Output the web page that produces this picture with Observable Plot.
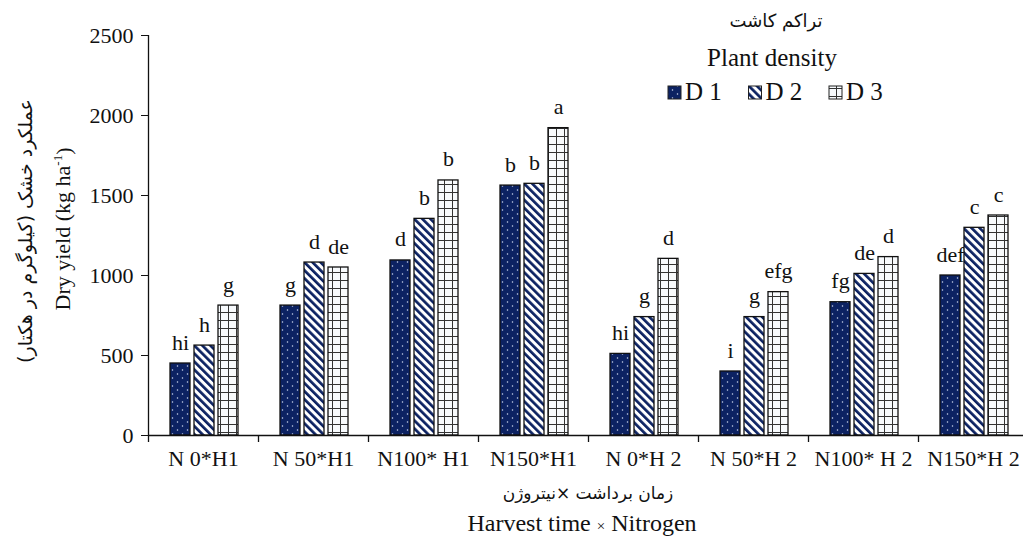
<!DOCTYPE html>
<html><head><meta charset="utf-8">
<script src="https://cdn.jsdelivr.net/npm/d3@7"></script>
<script src="https://cdn.jsdelivr.net/npm/@observablehq/plot@0.6"></script>
<style>
body{margin:0;background:#fff;overflow:hidden}
#chart{width:1023px;height:538px}
</style>
</head><body><div id="chart"></div>
<script>
const groups = ["N 0*H1","N 50*H1","N100* H1","N150*H1","N 0*H 2","N 50*H 2","N100* H 2","N150*H 2"];
const series = ["D 1","D 2","D 3"];
const valuesD1 = [450, 812, 1094, 1562, 510, 400, 833, 1000];
const valuesD2 = [562, 1081, 1354, 1573, 740, 740, 1010, 1298];
const valuesD3 = [812, 1050, 1594, 1921, 1104, 896, 1115, 1375];
const lettersD1 = ["hi","g","d","b","hi","i","fg","def"];
const lettersD2 = ["h","d","b","b","g","g","de","c"];
const lettersD3 = ["g","de","b","a","d","efg","d","c"];
const yTicks = [0, 500, 1000, 1500, 2000, 2500];
const legendTitleFa = "تراکم کاشت";
const legendTitleEn = "Plant density";
const yTitleFa = "عملکرد خشک (کیلوگرم در هکتار)";
const xTitleFa = "زمان برداشت ×نیتروژن";

const NAVY = "#0c2262";
const SERIF = "'Liberation Serif','Times New Roman',serif";
const FA = "'DejaVu Sans',sans-serif";

const allValues = [valuesD1, valuesD2, valuesD3];
const allLetters = [lettersD1, lettersD2, lettersD3];
const data = [];
series.forEach((s, si) => groups.forEach((g, gi) => data.push({group: g, series: s, si, value: allValues[si][gi], letter: allLetters[si][gi]})));

const BAND = 110;
const barStart = [22, 46, 70], barW = 20;
const patIds = ["pD1","pD2","pD3"];

const marks = [];
series.forEach((s, si) => {
  const sub = data.filter(d => d.si === si);
  marks.push(Plot.barY(sub, {x: "group", y: "value", insetLeft: barStart[si], insetRight: BAND - barStart[si] - barW,
    fill: `url(#${patIds[si]})`, stroke: "#111", strokeWidth: 1.3}));
  marks.push(Plot.text(sub, {x: "group", y: "value", text: "letter", dx: barStart[si] + barW/2 - BAND/2, dy: -14,
    lineAnchor: "bottom", fontSize: 22, fill: "#111"}));
});

const svg = Plot.plot({
  width: 1023, height: 538,
  marginLeft: 148, marginRight: 0, marginTop: 35, marginBottom: 103,
  style: {fontFamily: SERIF, background: "#fff", color: "#111"},
  x: {domain: groups, range: [148, 1028], padding: 0},
  y: {domain: [0, 2500]},
  marks: [
    ...marks,
    Plot.ruleY([0], {stroke: "#111", strokeWidth: 1.3}),
    Plot.ruleX([groups[0]], {x: d => d, dx: -BAND/2, y1: 0, y2: 2500, stroke: "#111", strokeWidth: 1.3}),
    Plot.ruleX(groups, {x: d => d, dx: -BAND/2, y1: 0, y2: 0, insetBottom: -7, stroke: "#111", strokeWidth: 1.3}),
    Plot.axisY({ticks: yTicks, tickSize: 7, tickPadding: 8, fontSize: 22, label: null, tickFormat: d => String(d), stroke: "#111"}),
    Plot.axisX({tickSize: 0, tickPadding: 15, fontSize: 22, label: null})
  ]
});

const sel = d3.select(svg);
const defs = sel.insert("defs", ":first-child");
const p1 = defs.append("pattern").attr("id","pD1").attr("patternUnits","userSpaceOnUse").attr("width",10).attr("height",8);
p1.append("rect").attr("width",10).attr("height",8).attr("fill",NAVY);
p1.append("circle").attr("cx",2.5).attr("cy",2).attr("r",0.75).attr("fill","#cfd8ee");
p1.append("circle").attr("cx",7.5).attr("cy",6).attr("r",0.75).attr("fill","#cfd8ee");
const p2 = defs.append("pattern").attr("id","pD2").attr("patternUnits","userSpaceOnUse").attr("width",5.7).attr("height",6).attr("patternTransform","rotate(-45)");
p2.append("rect").attr("width",5.7).attr("height",6).attr("fill","#fff");
p2.append("rect").attr("width",2.7).attr("height",6).attr("fill",NAVY);
const p3 = defs.append("pattern").attr("id","pD3").attr("patternUnits","userSpaceOnUse").attr("width",8).attr("height",8);
p3.append("rect").attr("width",8).attr("height",8).attr("fill","#f7fafd");
p3.append("path").attr("d","M0,0.5H8M4.5,0V8").attr("stroke","#333").attr("stroke-width",1).attr("fill","none");

// axis titles
sel.append("text").attr("transform","translate(25,231) rotate(-90)").attr("text-anchor","middle").attr("dy","0.35em")
  .attr("font-family",FA).attr("font-size",19).attr("fill","#111").attr("direction","rtl").text(yTitleFa);
const yEn = sel.append("text").attr("transform","translate(62,229) rotate(-90)").attr("text-anchor","middle").attr("dy","0.35em")
  .attr("font-family",SERIF).attr("font-size",22).attr("fill","#111");
yEn.append("tspan").text("Dry yield (kg ha");
yEn.append("tspan").attr("font-size",13).attr("dy","-0.6em").text("-1");
yEn.append("tspan").attr("dy","0.4em").text(")");

sel.append("text").attr("x",588).attr("y",493).attr("text-anchor","middle").attr("dy","0.35em")
  .attr("font-family",FA).attr("font-size",17).attr("fill","#111").attr("direction","rtl").text(xTitleFa);
const xEn = sel.append("text").attr("x",582).attr("y",523).attr("text-anchor","middle").attr("dy","0.35em")
  .attr("font-family",SERIF).attr("font-size",24).attr("fill","#111");
xEn.append("tspan").text("Harvest time ");
xEn.append("tspan").attr("font-size",15).text("×");
xEn.append("tspan").text(" Nitrogen");

// legend
sel.append("text").attr("x",776).attr("y",21).attr("text-anchor","middle").attr("dy","0.35em")
  .attr("font-family",FA).attr("font-size",18).attr("fill","#111").attr("direction","rtl").text(legendTitleFa);
sel.append("text").attr("x",772).attr("y",57).attr("text-anchor","middle").attr("dy","0.35em")
  .attr("font-family",SERIF).attr("font-size",25).attr("fill","#111").text(legendTitleEn);
const lg = sel.append("g").attr("text-anchor","start");
series.forEach((s, i) => {
  const x0 = 668 + i * 80.5;
  lg.append("rect").attr("x",x0).attr("y",86).attr("width",13).attr("height",13)
    .attr("fill",`url(#${patIds[i]})`).attr("stroke","#222").attr("stroke-width",1);
  lg.append("text").attr("x",x0+17).attr("y",100).attr("text-anchor","start").attr("font-family",SERIF).attr("font-size",25).attr("fill","#111").text(s);
});

document.getElementById("chart").appendChild(svg);
</script>
</body></html>
